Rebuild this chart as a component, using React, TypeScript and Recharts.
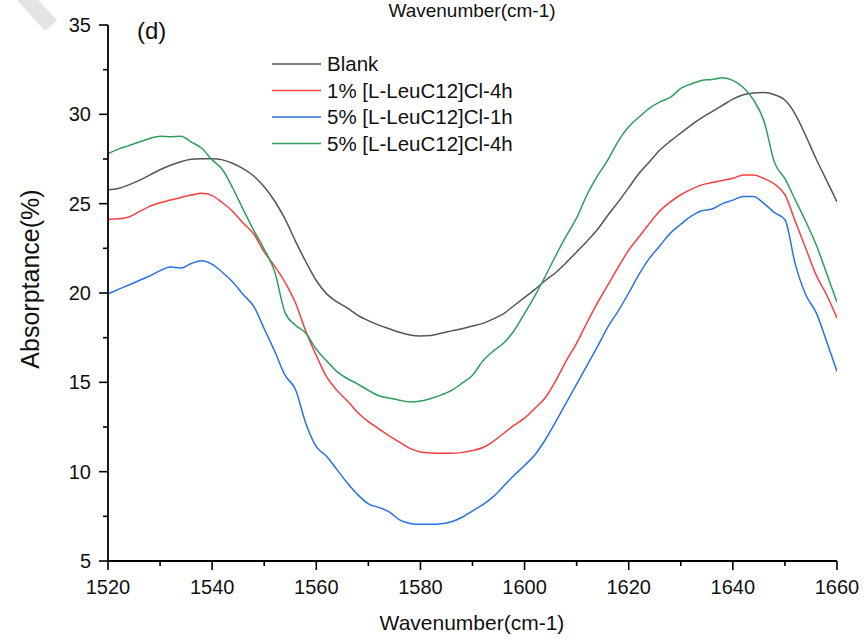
import React from 'react';
import { LineChart, Line, XAxis, YAxis } from 'recharts';

const wavenumbers = [
  1520, 1522, 1524, 1526, 1528, 1530, 1532, 1534, 1536, 1538, 1540, 1542, 1544, 1546, 1548, 1550,
  1552, 1554, 1556, 1558, 1560, 1562, 1564, 1566, 1568, 1570, 1572, 1574, 1576, 1578, 1580, 1582,
  1584, 1586, 1588, 1590, 1592, 1594, 1596, 1598, 1600, 1602, 1604, 1606, 1608, 1610, 1612, 1614,
  1616, 1618, 1620, 1622, 1624, 1626, 1628, 1630, 1632, 1634, 1636, 1638, 1640, 1642, 1644, 1646,
  1648, 1650, 1652, 1654, 1656, 1658, 1660,
];

const blank = [
  25.78, 25.85, 26.05, 26.3, 26.6, 26.9, 27.15, 27.35, 27.48, 27.52, 27.52, 27.45, 27.25, 26.95, 26.55, 25.95,
  25.15, 24.15, 22.9, 21.75, 20.7, 19.95, 19.5, 19.15, 18.75, 18.45, 18.2, 18.0, 17.8, 17.65, 17.6, 17.62,
  17.75, 17.88, 18.0, 18.15, 18.3, 18.55, 18.85, 19.3, 19.75, 20.2, 20.7, 21.15, 21.7, 22.3, 22.9, 23.55,
  24.35, 25.1, 25.9, 26.7, 27.35, 28.0, 28.5, 28.95, 29.4, 29.8, 30.15, 30.5, 30.85, 31.1, 31.2, 31.22,
  31.1, 30.8, 30.0, 28.8, 27.5, 26.3, 25.1,
];

const leu1pct4h = [
  24.12, 24.15, 24.25, 24.55, 24.85, 25.05, 25.2, 25.35, 25.48, 25.58, 25.45, 25.05, 24.55, 23.9, 23.3, 22.3,
  21.5, 20.6, 19.45, 17.85, 16.5, 15.3, 14.55, 13.95, 13.3, 12.8, 12.4, 12.0, 11.65, 11.3, 11.1, 11.05,
  11.03, 11.03, 11.08, 11.18, 11.35, 11.7, 12.15, 12.6, 13.0, 13.55, 14.15, 15.1, 16.2, 17.2, 18.35, 19.45,
  20.45, 21.45, 22.4, 23.15, 23.9, 24.6, 25.1, 25.5, 25.8, 26.05, 26.18, 26.3, 26.42, 26.6, 26.6, 26.4,
  26.1, 25.5, 24.0, 22.5, 21.0, 19.9, 18.6,
];

const leu5pct1h = [
  19.95, 20.2, 20.45, 20.7, 20.95, 21.25, 21.45, 21.4, 21.65, 21.8, 21.6, 21.15, 20.6, 19.9, 19.25, 18.0,
  16.75, 15.4, 14.6, 12.7, 11.4, 10.85, 10.1, 9.35, 8.7, 8.2, 8.0, 7.75, 7.3, 7.1, 7.05, 7.05,
  7.08, 7.2, 7.45, 7.8, 8.15, 8.6, 9.2, 9.8, 10.35, 10.95, 11.8, 12.8, 13.85, 14.9, 15.95, 17.0,
  18.1, 19.0, 20.0, 21.05, 21.95, 22.65, 23.35, 23.85, 24.3, 24.6, 24.7, 25.0, 25.2, 25.4, 25.4, 25.0,
  24.5, 24.1, 21.6, 19.9, 18.9, 17.3, 15.6,
];

const leu5pct4h = [
  27.8, 28.05, 28.25, 28.45, 28.65, 28.78, 28.75, 28.78, 28.45, 28.1, 27.45, 26.9, 25.85, 24.65, 23.5, 22.45,
  21.2, 18.9, 18.2, 17.75, 16.85, 16.2, 15.6, 15.2, 14.9, 14.55, 14.25, 14.12, 14.0, 13.9, 13.95, 14.1,
  14.3, 14.55, 14.95, 15.4, 16.2, 16.75, 17.2, 17.9, 18.85, 19.85, 20.95, 22.1, 23.2, 24.2, 25.5, 26.55,
  27.45, 28.5, 29.3, 29.85, 30.35, 30.7, 30.95, 31.45, 31.7, 31.9, 31.95, 32.05, 31.9, 31.5, 30.8, 29.6,
  27.3, 26.4, 25.2, 24.0, 22.7, 21.1, 19.5,
];

const seriesNames = ['Blank', '1% [L-LeuC12]Cl-4h', '5% [L-LeuC12]Cl-1h', '5% [L-LeuC12]Cl-4h'];
const seriesKeys = ['blank', 'leu1pct4h', 'leu5pct1h', 'leu5pct4h'];
const seriesColors = ['#555555', '#f53f3f', '#2a72e0', '#2e9e5c'];

const xTicks = [1520, 1530, 1540, 1550, 1560, 1570, 1580, 1590, 1600, 1610, 1620, 1630, 1640, 1650, 1660];
const yTicks = [5, 7.5, 10, 12.5, 15, 17.5, 20, 22.5, 25, 27.5, 30, 32.5, 35];

const xLabel = 'Wavenumber(cm-1)';
const yLabel = 'Absorptance(%)';
const panelLabel = '(d)';

const data = wavenumbers.map((x, i) => ({
  x,
  blank: blank[i],
  leu1pct4h: leu1pct4h[i],
  leu5pct1h: leu5pct1h[i],
  leu5pct4h: leu5pct4h[i],
}));

const FONT = '"Liberation Sans", Arial, sans-serif';

const XTick = (props: any) => {
  const { x, y, payload } = props;
  const v = payload.value;
  const major = (v - 1520) % 20 === 0;
  return (
    <g>
      <line x1={x} y1={y} x2={x} y2={y + (major ? 9 : 5)} stroke="#000" strokeWidth={1.6} />
      {major && (
        <text x={x} y={y + 33} textAnchor="middle" fontSize={20} fill="#111" fontFamily={FONT}>
          {v}
        </text>
      )}
    </g>
  );
};

const YTick = (props: any) => {
  const { x, y, payload } = props;
  const v = payload.value;
  const major = v % 5 === 0;
  return (
    <g>
      <line x1={x} y1={y} x2={x - (major ? 9 : 5)} y2={y} stroke="#000" strokeWidth={1.6} />
      {major && (
        <text x={x - 17} y={y + 7} textAnchor="end" fontSize={20} fill="#111" fontFamily={FONT}>
          {v}
        </text>
      )}
    </g>
  );
};

export default function App() {
  return (
    <div style={{ position: 'absolute', left: 0, top: 0, width: 865, height: 640, background: '#fff' }}>
      <LineChart
        width={865}
        height={640}
        data={data}
        margin={{ top: 25, right: 28, left: 0, bottom: 0 }}
      >
        <XAxis
          dataKey="x"
          type="number"
          domain={[1520, 1660]}
          ticks={xTicks}
          interval={0}
          height={79}
          tickSize={0}
          tickMargin={0}
          tickLine={false}
          tick={<XTick />}
          axisLine={{ stroke: '#000', strokeWidth: 1.8 }}
          allowDataOverflow
        />
        <YAxis
          type="number"
          domain={[5, 35]}
          ticks={yTicks}
          interval={0}
          width={108}
          tickSize={0}
          tickMargin={0}
          tickLine={false}
          tick={<YTick />}
          axisLine={{ stroke: '#000', strokeWidth: 1.8 }}
          allowDataOverflow
        />
        {seriesKeys.map((k, i) => (
          <Line
            key={k}
            dataKey={k}
            name={seriesNames[i]}
            type="monotone"
            stroke={seriesColors[i]}
            strokeWidth={1.5}
            dot={false}
            isAnimationActive={false}
          />
        ))}
      </LineChart>
      <svg
        width={865}
        height={640}
        style={{ position: 'absolute', left: 0, top: 0, pointerEvents: 'none' }}
      >
        <polygon points="17,0 38,0 57,20 45,31" fill="#e4e4e4" />
        <text x={472} y={17} textAnchor="middle" fontSize={19} fill="#111" fontFamily={FONT}>
          {xLabel}
        </text>
        <text x={472} y={630} textAnchor="middle" fontSize={21} fill="#111" fontFamily={FONT}>
          {xLabel}
        </text>
        <text
          x={0}
          y={0}
          transform="translate(39,279) rotate(-90)"
          textAnchor="middle"
          fontSize={25}
          fill="#111"
          fontFamily={FONT}
        >
          {yLabel}
        </text>
        <text x={137} y={39} fontSize={24} fill="#111" fontFamily={FONT}>
          {panelLabel}
        </text>
        {seriesNames.map((n, i) => {
          const cy = 64 + i * 26.5;
          return (
            <g key={n}>
              <line x1={272} y1={cy} x2={321} y2={cy} stroke={seriesColors[i]} strokeWidth={1.5} />
              <text x={327} y={cy + 7} fontSize={20.5} fill="#111" fontFamily={FONT}>
                {n}
              </text>
            </g>
          );
        })}
      </svg>
    </div>
  );
}
